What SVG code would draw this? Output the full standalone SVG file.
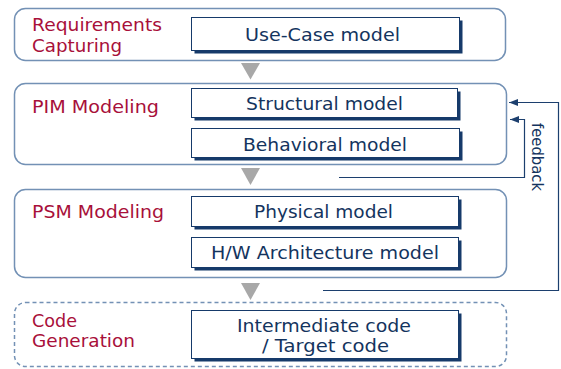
<svg xmlns="http://www.w3.org/2000/svg" width="561" height="369" viewBox="0 0 561 369">
<defs>
<style>
.stage{fill:#fff;stroke:#7391b5;stroke-width:1.5}
.dash{stroke-dasharray:4 3}
.box{fill:#fff;stroke:#163a6a;stroke-width:1}
.shadow{fill:#163a6a}
.lbl{font-family:"DejaVu Sans",Verdana,sans-serif;font-size:17px;fill:#a8103a}
.txt{font-family:"DejaVu Sans",Verdana,sans-serif;font-size:17px;fill:#14345e}
.flow{fill:#a8a8a8}
.fb{fill:none;stroke:#1c3f6e;stroke-width:1.2}
</style>
<marker id="ah" markerUnits="userSpaceOnUse" markerWidth="10" markerHeight="8" refX="9" refY="3.5" orient="auto">
<path d="M0,0 L9,3.5 L0,7 z" fill="#1c3f6e"/>
</marker>
</defs>
<rect width="561" height="369" fill="#fff"/>

<g id="req">
<rect class="stage" x="14.5" y="8.5" width="491" height="52" rx="11"/>
<text class="lbl" x="32" y="31" textLength="130" lengthAdjust="spacingAndGlyphs">Requirements</text>
<text class="lbl" x="32" y="52" textLength="90" lengthAdjust="spacingAndGlyphs">Capturing</text>
</g>
<g id="usecase">
<rect class="shadow" x="194.5" y="20.5" width="268" height="33"/>
<rect class="box" x="191.5" y="17.5" width="268" height="33"/>
<text class="txt" x="245" y="41" textLength="155" lengthAdjust="spacingAndGlyphs">Use-Case model</text>
</g>

<g id="pim">
<rect class="stage" x="14.5" y="83.5" width="492" height="81" rx="11"/>
<text class="lbl" x="32" y="113" textLength="127" lengthAdjust="spacingAndGlyphs">PIM Modeling</text>
</g>
<g id="structural">
<rect class="shadow" x="194.5" y="91.5" width="266" height="29"/>
<rect class="box" x="191.5" y="88.5" width="266" height="29"/>
<text class="txt" x="246" y="110" textLength="157" lengthAdjust="spacingAndGlyphs">Structural model</text>
</g>
<g id="behavioral">
<rect class="shadow" x="194.5" y="131.5" width="268" height="29"/>
<rect class="box" x="191.5" y="128.5" width="268" height="29"/>
<text class="txt" x="243" y="151" textLength="164" lengthAdjust="spacingAndGlyphs">Behavioral model</text>
</g>

<g id="psm">
<rect class="stage" x="14.5" y="189.5" width="492" height="88" rx="11"/>
<text class="lbl" x="32" y="218" textLength="132" lengthAdjust="spacingAndGlyphs">PSM Modeling</text>
</g>
<g id="physical">
<rect class="shadow" x="194.5" y="199.5" width="267" height="30"/>
<rect class="box" x="191.5" y="196.5" width="267" height="30"/>
<text class="txt" x="254" y="218" textLength="139" lengthAdjust="spacingAndGlyphs">Physical model</text>
</g>
<g id="hw">
<rect class="shadow" x="194.5" y="240.5" width="267" height="30"/>
<rect class="box" x="191.5" y="237.5" width="267" height="30"/>
<text class="txt" x="211" y="259" textLength="228" lengthAdjust="spacingAndGlyphs">H/W Architecture model</text>
</g>

<g id="codegen">
<rect class="stage dash" x="14.5" y="302.5" width="492" height="64" rx="11"/>
<text class="lbl" x="32" y="327" textLength="45" lengthAdjust="spacingAndGlyphs">Code</text>
<text class="lbl" x="32" y="347" textLength="103" lengthAdjust="spacingAndGlyphs">Generation</text>
</g>
<g id="intermediate">
<rect class="shadow" x="194.5" y="313.5" width="267" height="48"/>
<rect class="box" x="191.5" y="310.5" width="267" height="48"/>
<text class="txt" x="237" y="332" textLength="174" lengthAdjust="spacingAndGlyphs">Intermediate code</text>
<text class="txt" x="262" y="352" textLength="127" lengthAdjust="spacingAndGlyphs">/ Target code</text>
</g>

<g id="connectors">
<polygon class="flow" points="241,63 260,63 250.5,79.5"/>
<polygon class="flow" points="241,168 260,168 250.5,185"/>
<polygon class="flow" points="241,283 260,283 250.5,300"/>
<path class="fb" d="M323,290.5 H558.5 V102.5 H509" marker-end="url(#ah)"/>
<path class="fb" d="M339,177.5 H524.5 V119.5 H510" marker-end="url(#ah)"/>
<text class="txt" transform="translate(531.5,123) rotate(90)" x="0" y="0" style="font-size:16.5px" textLength="68" lengthAdjust="spacingAndGlyphs">feedback</text>
</g>
</svg>
